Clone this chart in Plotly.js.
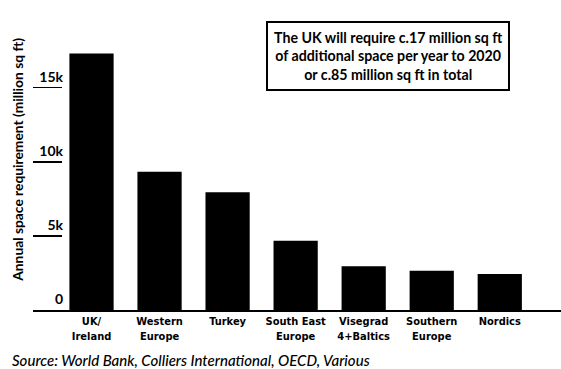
<!DOCTYPE html>
<html>
<head>
<meta charset="utf-8">
<script src="https://cdn.plot.ly/plotly-3.0.1.min.js"></script>
<style>html,body{margin:0;padding:0;background:#fff;}#chart{width:561px;height:369px;}</style>
</head>
<body>
<div id="chart"></div>
<script>
const categories = ["UK/<br>Ireland", "Western<br>Europe", "Turkey", "South East<br>Europe", "Visegrad<br>4+Baltics", "Southern<br>Europe", "Nordics"];
const values = [17300, 9320, 7940, 4680, 2950, 2640, 2430];
const tickVals = [0, 5000, 10000, 15000];
const tickText = ["0", "5k", "10k", "15k"];
const yTitle = "Annual space requirement (million sq ft)";
const noteText = "The UK will require c.17 million sq ft<br>of additional space per year to 2020<br>or c.85 million sq ft in total";
const sourceText = "Source: World Bank, Colliers International, OECD, Various";

const trace = {
  type: "bar",
  x: categories,
  y: values,
  marker: {color: "#000000"},
  hoverinfo: "skip"
};

const layout = {
  width: 561, height: 369,
  margin: {l: 33, r: 0, t: 21, b: 59},
  paper_bgcolor: "#ffffff", plot_bgcolor: "#ffffff",
  showlegend: false,
  bargap: 0.35,
  xaxis: {
    type: "category",
    range: [-0.86, 6.9],
    showline: true, linecolor: "#000", linewidth: 2,
    showgrid: false, zeroline: false, ticks: "",
    tickfont: {family: "DejaVu Sans Condensed, Liberation Sans Narrow, sans-serif", size: 11, color: "#000", weight: 600},
    automargin: false
  },
  yaxis: {
    range: [0, 19500],
    showline: false, showgrid: false, zeroline: false,
    tickvals: tickVals, ticktext: tickText,
    ticks: "inside", ticklen: 29, tickwidth: 1.5, tickcolor: "#000",
    ticklabelposition: "outside top",
    ticklabelstandoff: -31,
    tickfont: {family: "Lato, sans-serif", size: 14, color: "#000", weight: "bold"},
    automargin: false
  },
  annotations: [
    {
      xref: "paper", yref: "paper", x: 0.672, y: 1, xanchor: "center", yanchor: "top",
      text: noteText, showarrow: false, align: "center",
      font: {family: "Lato, sans-serif", size: 14.2, color: "#000", weight: "bold"},
      bordercolor: "#000", borderwidth: 2, borderpad: 6, bgcolor: "#fff"
    },
    {
      xref: "paper", yref: "paper", x: -0.0436, y: -0.173, xanchor: "left", yanchor: "middle",
      text: "<i>" + sourceText + "</i>", showarrow: false,
      font: {family: "Lato, sans-serif", size: 15, color: "#000", weight: 500}
    },
    {
      xref: "paper", yref: "paper", x: -0.0284, y: 0.52, xanchor: "center", yanchor: "middle",
      text: yTitle, showarrow: false, textangle: -90,
      font: {family: "Lato, sans-serif", size: 13.8, color: "#000", weight: "bold"}
    }
  ]
};

Plotly.newPlot("chart", [trace], layout, {staticPlot: true, displayModeBar: false});
</script>
</body>
</html>
